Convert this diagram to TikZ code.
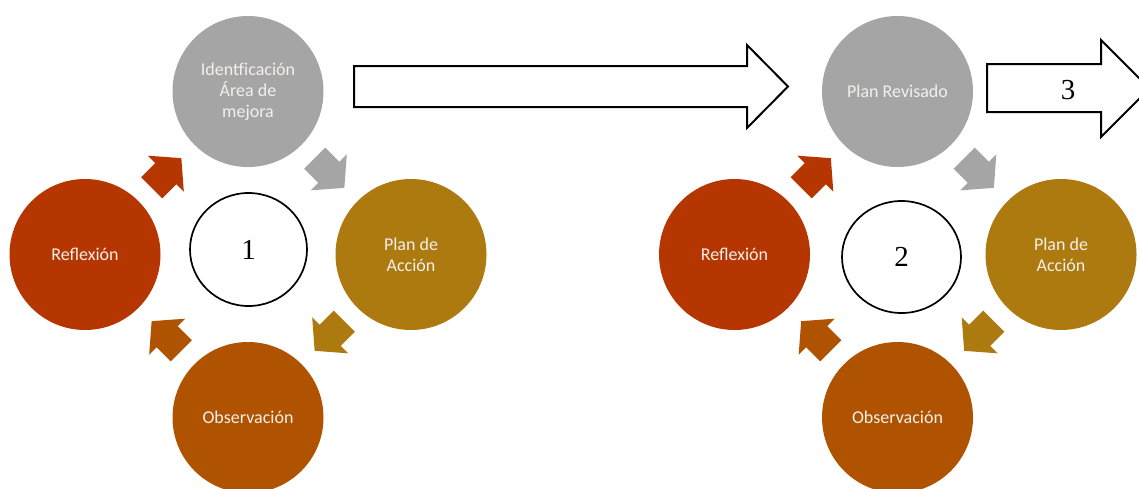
\documentclass[tikz,border=0pt]{standalone}
\usepackage{fontspec}
\setmainfont{Carlito}
\newfontfamily\numfont{Liberation Serif}
\usetikzlibrary{shapes.geometric}
\definecolor{cgray}{HTML}{A5A5A5}
\definecolor{cred}{HTML}{B53600}
\definecolor{cgold}{HTML}{AD7A10}
\definecolor{corange}{HTML}{B05300}
\definecolor{ctext}{HTML}{F4F0EC}
\tikzset{
  bubble/.style={circle, minimum size=151pt, inner sep=0pt, fill=#1, draw=none,
    text=ctext, align=center, font=\fontsize{18}{21}\selectfont},
  hub/.style={ellipse, draw=black, line width=1.7pt, fill=white, inner sep=0pt,
    font=\numfont\fontsize{29}{30}\selectfont},
  bigarrow/.style={draw=black, line width=2pt, fill=white, line join=miter},
  smallarrow/.style={fill=#1, draw=none}
}
\newcommand{\cyclearrow}[4]{%
  \begin{scope}[shift={(#1,#2)}, rotate=#3]
    \fill[smallarrow=#4] (-21,-15) -- (-1,-15) -- (-1,-25.5) -- (21,0) -- (-1,25.5) -- (-1,15) -- (-21,15) -- cycle;
  \end{scope}}
\begin{document}
\begin{tikzpicture}[x=1pt, y=-1pt]
\useasboundingbox (0,0) rectangle (1139,488);
% ---- cycle 1 ----
\node[bubble=cgray]   (t1) at (248,91.5)  {Identficación\\Área de\\mejora};
\node[bubble=cgold]   (p1) at (411,254.5) {Plan de\\Acción};
\node[bubble=corange] (o1) at (248,417.5) {Observación};
\node[bubble=cred]    (r1) at (85,254.5)  {Reflexión};
\node[hub, minimum width=117pt, minimum height=113pt] (h1) at (248.5,249.5) {\raisebox{-4.5pt}{1}};
\cyclearrow{329.5}{173}{-45}{cgray}
\cyclearrow{329.5}{336}{-135}{cgold}
\cyclearrow{166.5}{336}{135}{corange}
\cyclearrow{166.5}{173}{45}{cred}
% ---- big arrow 1 ----
\draw[bigarrow] (354,66) -- (747,66) -- (747,45) -- (788,86.5) -- (747,128) -- (747,107) -- (354,107) -- cycle;
% ---- cycle 2 ----
\node[bubble=cgray]   (t2) at (897.5,91.5)  {Plan Revisado};
\node[bubble=cgold]   (p2) at (1061,254.5)  {Plan de\\Acción};
\node[bubble=corange] (o2) at (897.5,417.5) {Observación};
\node[bubble=cred]    (r2) at (734.5,254.5) {Reflexión};
\node[hub, minimum width=119pt, minimum height=112pt] (h2) at (901.5,257) {\raisebox{-6pt}{2}};
\cyclearrow{979}{173}{-45}{cgray}
\cyclearrow{979}{336}{-135}{cgold}
\cyclearrow{816}{336}{135}{corange}
\cyclearrow{816}{173}{45}{cred}
% ---- big arrow 2 ----
\draw[bigarrow] (987,64) -- (1101,64) -- (1101,40) -- (1149.5,88.5) -- (1101,137) -- (1101,112) -- (987,112) -- cycle;
\node[font=\numfont\fontsize{29}{30}\selectfont, inner sep=0pt] (n3) at (1068,90) {3};
\end{tikzpicture}
\end{document}
